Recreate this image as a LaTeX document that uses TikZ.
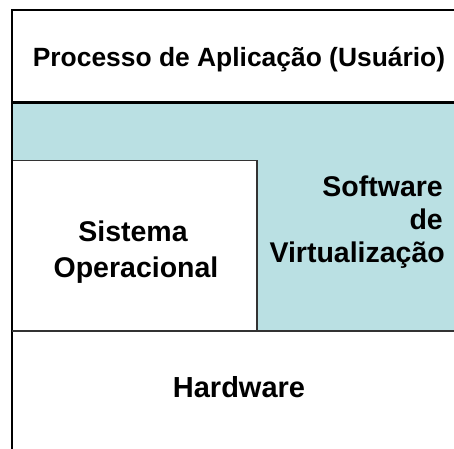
\documentclass[tikz,border=0pt]{standalone}
\usepackage{fontspec}
\setmainfont{Liberation Sans}
\definecolor{vblue}{HTML}{BAE0E3}
\definecolor{dline}{HTML}{333333}
\tikzset{
  lbl/.style={text=black, inner sep=0pt, anchor=base},
  bigfont/.style={font=\bfseries\fontsize{28.5}{34}\selectfont},
  layer/.style={draw=black, line width=1.8pt},
}
\begin{document}
\begin{tikzpicture}[x=1pt,y=-1pt]
\useasboundingbox (0,0) rectangle (454,448);
\clip (0,0) rectangle (454,448);
\fill[white] (0,0) rectangle (454,448);
% blue virtualization band
\fill[vblue] (12,102.5) rectangle (470,331);
% sistema operacional box
\filldraw[fill=white, draw=dline, line width=1.3pt] (12,160.5) rectangle (257,331);
% outer frame and layer lines
\draw[layer] (470,10) -- (12,10) -- (12,470);
\draw[draw=black, line width=2.4pt] (12,102.5) -- (470,102.5);
\draw[draw=dline, line width=1.4pt] (12,331) -- (470,331);
% labels
\node[lbl, font=\bfseries\fontsize{26.4}{30}\selectfont] (app) at (239,66) {Processo de Aplicação (Usuário)};
\node[lbl, bigfont] (so1) at (133,241) {Sistema};
\node[lbl, bigfont] (so2) at (136,277) {Operacional};
\node[lbl, bigfont, anchor=base east] (virt1) at (443,196) {Software};
\node[lbl, bigfont, anchor=base east] (virt2) at (443,229) {de};
\node[lbl, bigfont, anchor=base east] (virt3) at (445,262) {Virtualização};
\node[lbl, font=\bfseries\fontsize{29}{34}\selectfont] (hw) at (239,397) {Hardware};
\end{tikzpicture}
\end{document}
